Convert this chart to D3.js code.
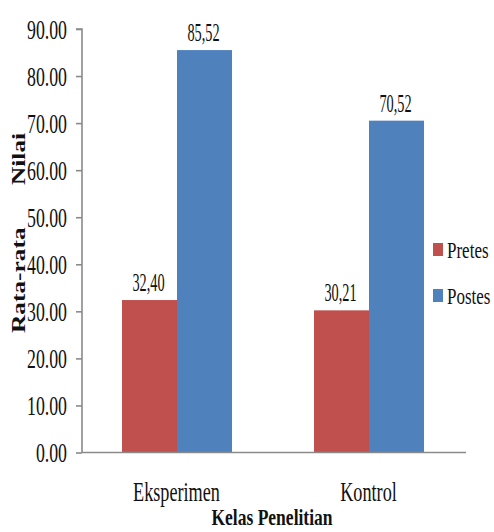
<!DOCTYPE html>
<html>
<head>
<meta charset="utf-8">
<script src="https://cdn.jsdelivr.net/npm/d3@7"></script>
<style>
  html, body { margin: 0; padding: 0; background: #fff; }
  svg { display: block; }
</style>
</head>
<body>
<svg id="chart" width="494" height="532"></svg>
<script>
// Average scores per research class
const categories = ["Eksperimen", "Kontrol"];
const seriesNames = ["Pretes", "Postes"];
const pretes = [32.40, 30.21];
const postes = [85.52, 70.52];
const valueLabels = [["32,40", "85,52"], ["30,21", "70,52"]];
const yTicks = [0, 10, 20, 30, 40, 50, 60, 70, 80, 90];
const yTickLabels = ["0.00", "10.00", "20.00", "30.00", "40.00", "50.00", "60.00", "70.00", "80.00", "90.00"];
const colors = ["#C0504D", "#4F81BD"];

const FONT = "'Liberation Serif', 'Times New Roman', Tinos, 'DejaVu Serif', serif";

const svg = d3.select("#chart");
const plot = { left: 81, right: 465, top: 29, bottom: 452.5 };

const y = d3.scaleLinear().domain([0, 90]).range([plot.bottom, plot.top]);
const x0 = d3.scaleBand().domain(categories).range([plot.left, plot.right])
  .paddingInner(0.427).paddingOuter(0.2135);
const x1 = d3.scaleBand().domain(seriesNames).range([0, x0.bandwidth()]);

// Condensed serif text: placed at (px, py), squeezed along its own direction
function squeezed(g, px, py, str, size, sx, anchor, weight, rot) {
  return g.append("g")
    .attr("transform", `translate(${px},${py})` + (rot ? ` rotate(${rot})` : "") + ` scale(${sx},1)`)
    .append("text")
    .attr("text-anchor", anchor)
    .attr("font-family", FONT)
    .attr("font-size", size)
    .attr("font-weight", weight || "normal")
    .attr("fill", "#111")
    .text(str);
}

// Bars
const rows = categories.map((c, i) => ({ cat: c, vals: [pretes[i], postes[i]], labels: valueLabels[i] }));
const groups = svg.append("g").selectAll("g").data(rows).join("g")
  .attr("transform", d => `translate(${x0(d.cat)},0)`);
groups.selectAll("rect").data(d => d.vals.map((v, j) => ({ v, s: seriesNames[j], j })))
  .join("rect")
  .attr("x", d => x1(d.s))
  .attr("y", d => y(d.v))
  .attr("width", x1.bandwidth())
  .attr("height", d => y(0) - y(d.v))
  .attr("fill", d => colors[d.j]);

// Value labels above bars
rows.forEach(r => {
  r.vals.forEach((v, j) => {
    const cx = x0(r.cat) + x1(seriesNames[j]) + x1.bandwidth() / 2 - 1;
    squeezed(svg, cx, y(v) - 9, r.labels[j], 26, 0.55, "middle");
  });
});

// Y axis
const axisColor = "#8a8a8a";
const yAxis = svg.append("g").attr("transform", `translate(${plot.left + 1},0)`)
  .call(d3.axisLeft(y).tickValues(yTicks).tickSize(6).tickFormat(() => ""));
yAxis.selectAll("path, line").attr("stroke", axisColor).attr("stroke-width", 1.6);
yAxis.select(".domain").attr("d", `M-6,${y(90)}H0V${y(0)}`);
yTicks.forEach((t, i) => {
  squeezed(svg, 67, y(t) + 9.5, yTickLabels[i], 28, 0.635, "end");
});

// X axis baseline
svg.append("line")
  .attr("x1", plot.left + 1).attr("x2", plot.right + 1)
  .attr("y1", y(0)).attr("y2", y(0))
  .attr("stroke", axisColor).attr("stroke-width", 1.6);

// Category labels
categories.forEach(c => {
  squeezed(svg, x0(c) + x0.bandwidth() / 2 - 0.5, 501, c, 28, 0.65, "middle");
});

// Axis titles
squeezed(svg, (plot.left + plot.right) / 2 - 1, 525, "Kelas Penelitian", 24, 0.73, "middle", "bold");
squeezed(svg, 25, 333, "Rata-rata", 19.5, 1.3, "start", "bold", -90);
squeezed(svg, 25, 185, "Nilai", 19.5, 1.3, "start", "bold", -90);

// Legend
const legendY = [243, 289];
seriesNames.forEach((s, i) => {
  svg.append("rect")
    .attr("x", 433).attr("y", legendY[i])
    .attr("width", 10).attr("height", 13)
    .attr("fill", colors[i]);
  squeezed(svg, 447, legendY[i] + 15, s, 23, 0.74, "start");
});
</script>
</body>
</html>
